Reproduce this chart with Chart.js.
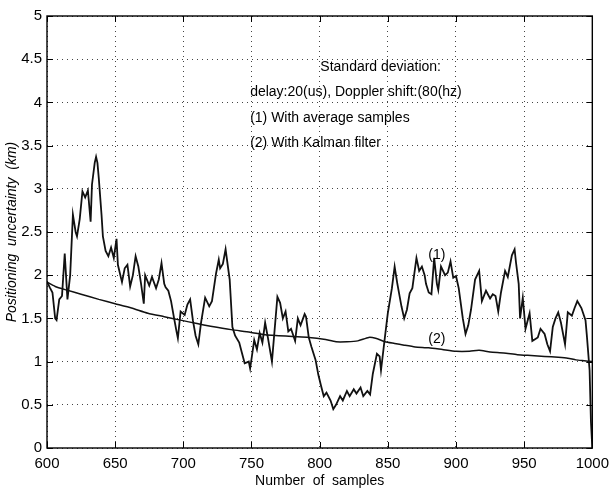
<!DOCTYPE html>
<html>
<head>
<meta charset="utf-8">
<script src="https://cdn.jsdelivr.net/npm/chart.js@4/dist/chart.umd.min.js"></script>
<style>
  html, body { margin: 0; padding: 0; background: #fff; }
  #wrap { width: 616px; height: 494px; }
</style>
</head>
<body>
<div id="wrap"><canvas id="c" width="616" height="494"></canvas></div>
<script>
// Positioning uncertainty (km) versus sample number
const samplesAvg = [600,602,604,606,607,609,611,613,615,617,619,621,622,624,626,628,630,632,633,635,636,637,638,640,641,643,645,647,649,651,652,655,657,659,661,663,665,667,669,671,672,675,677,680,682,684,686,687,689,691,693,695,696,698,701,703,705,707,709,711,713,716,719,721,724,726,727,729,731,734,736,738,741,743,745,748,749,752,754,756,758,760,762,765,769,771,773,775,777,779,782,784,786,789,790,792,794,797,799,801,803,805,808,810,812,815,817,820,822,825,827,830,832,835,837,839,
  842,844,845,848,850,853,855,857,860,862,864,866,868,871,873,875,877,878,880,882,884,886,887,889,892,894,896,898,900,902,905,907,909,911,914,917,919,922,925,927,929,931,933,936,938,941,943,944,946,947,949,951,954,956,958,960,962,965,967,969,971,973,975,977,980,982,985,987,989,992,995,996,998,999,1000];
const uncertaintyAvg = [1.93,1.86,1.8,1.5,1.48,1.72,1.76,2.25,1.72,2.0,2.7,2.5,2.45,2.65,2.97,2.9,2.98,2.62,3.05,3.3,3.37,3.3,3.12,2.7,2.45,2.28,2.22,2.32,2.2,2.42,2.12,1.92,2.08,2.12,1.87,2.0,2.22,2.1,1.9,1.67,2.0,1.88,1.98,1.85,1.95,2.14,1.9,1.86,1.82,1.7,1.52,1.35,1.27,1.58,1.54,1.66,1.72,1.48,1.3,1.2,1.45,1.74,1.64,1.7,2.02,2.18,2.08,2.13,2.3,1.95,1.4,1.3,1.22,1.1,0.98,1.0,0.92,1.25,1.14,1.33,1.22,1.45,1.28,1.0,1.75,1.68,1.5,1.58,1.35,1.38,1.24,1.5,1.42,1.55,1.52,1.28,1.17,1.02,0.85,0.72,0.6,0.64,0.55,0.45,0.5,0.6,0.55,0.66,0.6,0.68,0.63,0.7,0.6,0.66,0.62,0.86,
  1.09,1.06,0.9,1.3,1.56,1.85,2.1,1.9,1.64,1.5,1.6,1.79,1.85,2.2,2.05,2.1,2.0,1.9,1.8,1.78,2.2,1.9,1.83,2.1,2.0,2.03,2.16,1.97,1.99,1.85,1.5,1.32,1.42,1.6,1.95,2.05,1.7,1.82,1.73,1.78,1.76,1.58,1.8,2.05,1.98,2.23,2.3,2.15,1.9,1.5,1.74,1.38,1.56,1.24,1.26,1.28,1.38,1.32,1.2,1.12,1.4,1.5,1.57,1.45,1.2,1.57,1.53,1.62,1.7,1.62,1.48,1.3,0.9,0.3,0.0];

const samplesKalman = [600,606,614,625,638,650,662,674,686,698,710,720,735,749,760,770,780,792,803,812,820,828,836,841,848,855,862,870,880,890,900,910,917,925,935,945,955,965,975,982,988,994,1000];
const uncertaintyKalman = [1.92,1.87,1.83,1.78,1.72,1.67,1.62,1.56,1.52,1.48,1.44,1.41,1.37,1.34,1.31,1.3,1.29,1.28,1.26,1.23,1.23,1.24,1.28,1.27,1.23,1.21,1.19,1.17,1.16,1.14,1.12,1.12,1.13,1.11,1.1,1.08,1.07,1.06,1.05,1.04,1.02,1.01,1.0];

const xTicks = [600,650,700,750,800,850,900,950,1000];
const yTicks = [0,0.5,1,1.5,2,2.5,3,3.5,4,4.5,5];
const yTickText = ['0','0.5','1','1.5','2','2.5','3','3.5','4','4.5','5'];

const noteLines = ['Standard deviation:', 'delay:20(us), Doppler shift:(80(hz)', '(1) With average samples', '(2) With Kalman filter'];
const curveTags = ['(1)', '(2)'];

const FONT = '"Liberation Sans", Arial, Helvetica, sans-serif';

function toPoints(xs, ys) { return xs.map((v, i) => ({ x: v, y: ys[i] })); }

// Box frame, inward tick marks and text annotations
const frameAndNotes = {
  id: 'frameAndNotes',
  afterDatasetsDraw(chart) {
    const { ctx, chartArea: a, scales: { x, y } } = chart;
    ctx.save();
    ctx.strokeStyle = '#000';
    ctx.lineWidth = 1.4;
    ctx.strokeRect(a.left, a.top, a.width, a.height);

    const len = 6;
    ctx.beginPath();
    x.ticks.forEach(t => {
      const px = Math.round(x.getPixelForValue(t.value)) + 0.5;
      ctx.moveTo(px, a.bottom); ctx.lineTo(px, a.bottom - len);
      ctx.moveTo(px, a.top); ctx.lineTo(px, a.top + len);
    });
    y.ticks.forEach(t => {
      const py = Math.round(y.getPixelForValue(t.value)) + 0.5;
      ctx.moveTo(a.left, py); ctx.lineTo(a.left + len, py);
      ctx.moveTo(a.right, py); ctx.lineTo(a.right - len, py);
    });
    ctx.lineWidth = 1;
    ctx.stroke();

    ctx.fillStyle = '#000';
    ctx.font = '14px ' + FONT;
    ctx.textBaseline = 'middle';
    ctx.textAlign = 'left';
    ctx.fillText(noteLines[0], x.getPixelForValue(800.5), y.getPixelForValue(4.41));
    ctx.fillText(noteLines[1], x.getPixelForValue(749), y.getPixelForValue(4.12));
    ctx.fillText(noteLines[2], x.getPixelForValue(749), y.getPixelForValue(3.82));
    ctx.fillText(noteLines[3], x.getPixelForValue(749), y.getPixelForValue(3.53));

    ctx.textAlign = 'center';
    ctx.fillText(curveTags[0], x.getPixelForValue(886), y.getPixelForValue(2.23));
    ctx.fillText(curveTags[1], x.getPixelForValue(886), y.getPixelForValue(1.26));
    ctx.restore();
  }
};

new Chart(document.getElementById('c'), {
  type: 'line',
  data: {
    datasets: [
      {
        label: '(1) With average samples',
        data: toPoints(samplesAvg, uncertaintyAvg),
        borderColor: '#111',
        borderWidth: 1.8,
        pointRadius: 0,
        tension: 0
      },
      {
        label: '(2) With Kalman filter',
        data: toPoints(samplesKalman, uncertaintyKalman),
        borderColor: '#111',
        borderWidth: 1.5,
        pointRadius: 0,
        tension: 0.2
      }
    ]
  },
  options: {
    responsive: false,
    animation: false,
    events: [],
    layout: { padding: { left: 0, right: 16, top: 16, bottom: 0 } },
    plugins: { legend: { display: false }, tooltip: { enabled: false } },
    scales: {
      x: {
        type: 'linear',
        min: 600,
        max: 1000,
        afterBuildTicks: s => { s.ticks = xTicks.map(v => ({ value: v })); },
        afterFit: s => { s.height = 46; },
        ticks: {
          color: '#000',
          font: { family: FONT, size: 15 },
          padding: 7,
          maxRotation: 0,
          autoSkip: false,
          callback: v => String(v)
        },
        grid: { color: '#444', lineWidth: 1, drawTicks: false },
        border: { display: false, dash: [1, 4] },
        title: {
          display: true,
          text: 'Number  of  samples',
          color: '#000',
          font: { family: FONT, size: 14 },
          padding: { top: 0, bottom: 4 }
        }
      },
      y: {
        min: 0,
        max: 5,
        afterBuildTicks: s => { s.ticks = yTicks.map(v => ({ value: v })); },
        afterFit: s => { s.width = 47; },
        ticks: {
          color: '#000',
          font: { family: FONT, size: 15 },
          padding: 5,
          autoSkip: false,
          callback: (v, i) => yTickText[i]
        },
        grid: { color: '#444', lineWidth: 1, drawTicks: false },
        border: { display: false, dash: [1, 4] },
        title: {
          display: true,
          text: 'Positioning  uncertainty  (km)',
          color: '#000',
          font: { family: FONT, size: 14, style: 'italic' },
          padding: { top: 4, bottom: 0 }
        }
      }
    }
  },
  plugins: [frameAndNotes]
});
</script>
</body>
</html>
